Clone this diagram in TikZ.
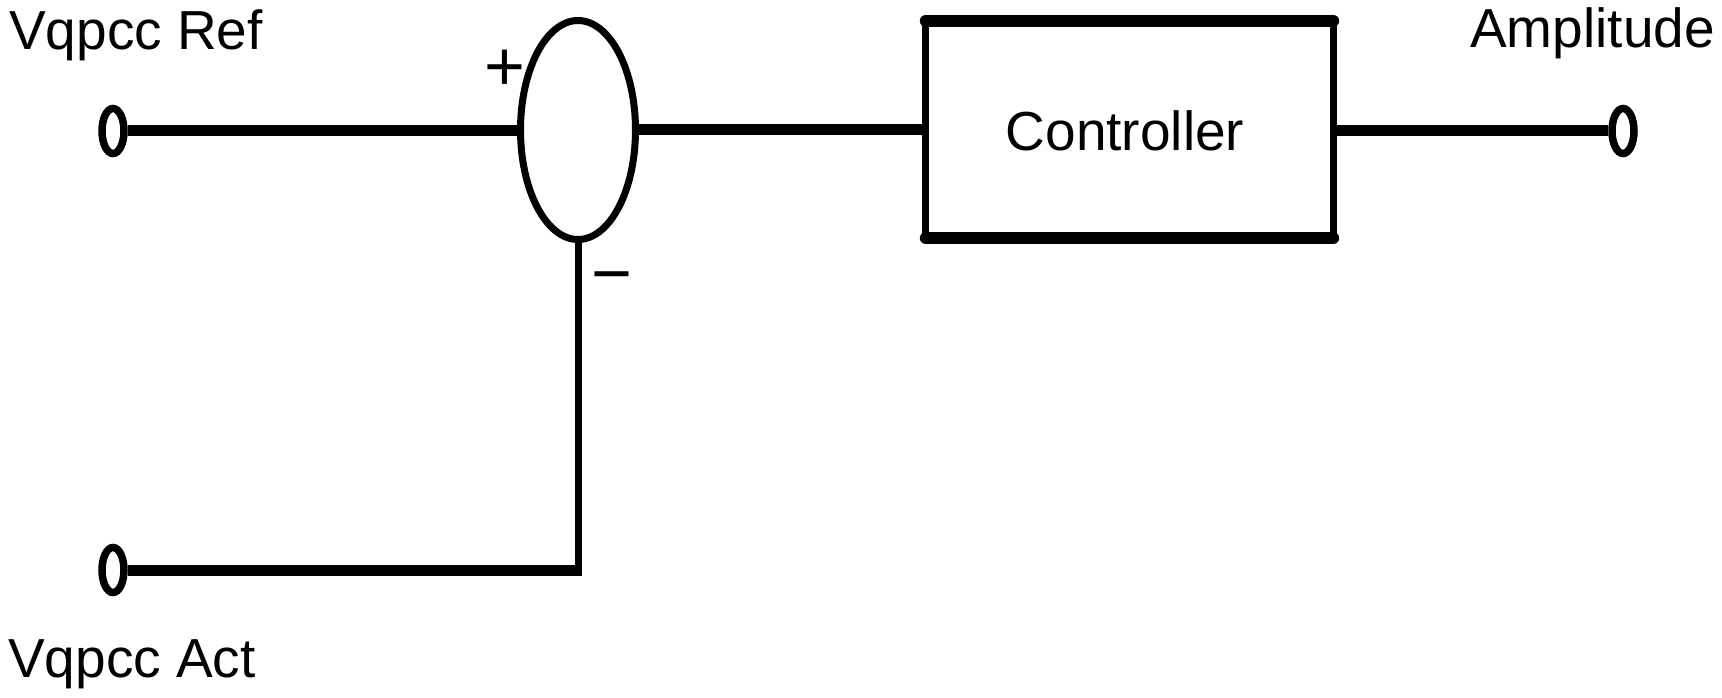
\documentclass[tikz,border=0pt]{standalone}
\usepackage{fontspec}
\setmainfont{Liberation Sans}
\usetikzlibrary{shapes.geometric}
\begin{document}
\begin{tikzpicture}[x=1pt,y=-1pt,
  lbl/.style={font=\fontsize{55}{66}\selectfont, inner sep=0pt},
  sgn/.style={font=\fontsize{70}{80}\selectfont, inner sep=0pt},
  term/.style={ellipse, draw, line width=7.5pt, minimum width=22pt, minimum height=45pt, inner sep=0pt},
  sumj/.style={ellipse, draw, line width=7pt, minimum width=115pt, minimum height=219pt, inner sep=0pt},
  wire/.style={line width=11pt},
  thinwire/.style={line width=7pt},
  boxh/.style={line width=12pt, line cap=round},
  boxv/.style={line width=7pt, line cap=round}]
\useasboundingbox (0,0) rectangle (1722,698);
\fill[white] (0,0) rectangle (1722,698);

% terminals
\node[term] (tref) at (113,131) {};
\node[term] (tact) at (113,570) {};
\node[term] (tamp) at (1623,131) {};

% summing junction
\node[sumj] (sum) at (578,130) {};

% controller block
\node[inner sep=0pt, minimum width=407pt, minimum height=217pt] (ctrl) at (1129.5,129.5) {};
\node[lbl, anchor=base] (ctrltxt) at (1125,150) {Controller};
\draw[boxh] (ctrl.north west) -- (ctrl.north east);
\draw[boxh] (ctrl.south west) -- (ctrl.south east);
\draw[boxv] (ctrl.north west) -- (ctrl.south west);
\draw[boxv] (ctrl.north east) -- (ctrl.south east);

% labels
\node[lbl, anchor=base west] (lref) at (9,50) {Vqpcc Ref};
\node[lbl, anchor=base west] (lact) at (8,677) {Vqpcc Act};
\node[lbl, anchor=base east] (lamp) at (1715,48) {Amplitude};
\node[sgn] (plus) at (505,70) {+};
\node[sgn] (minus) at (612,285) {−};

% connectors
\coordinate (corner) at (578,570);
\draw[wire] (tref.east) -- (tref.east -| sum.west);
\draw[wire] (sum.east) -- (sum.east -| ctrl.west);
\draw[wire] (ctrl.east |- tamp.west) -- (tamp.west);
\draw[wire] (tact.east) -- ([xshift=3.5pt]corner);
\draw[thinwire] (corner) -- (sum.south);
\end{tikzpicture}
\end{document}
